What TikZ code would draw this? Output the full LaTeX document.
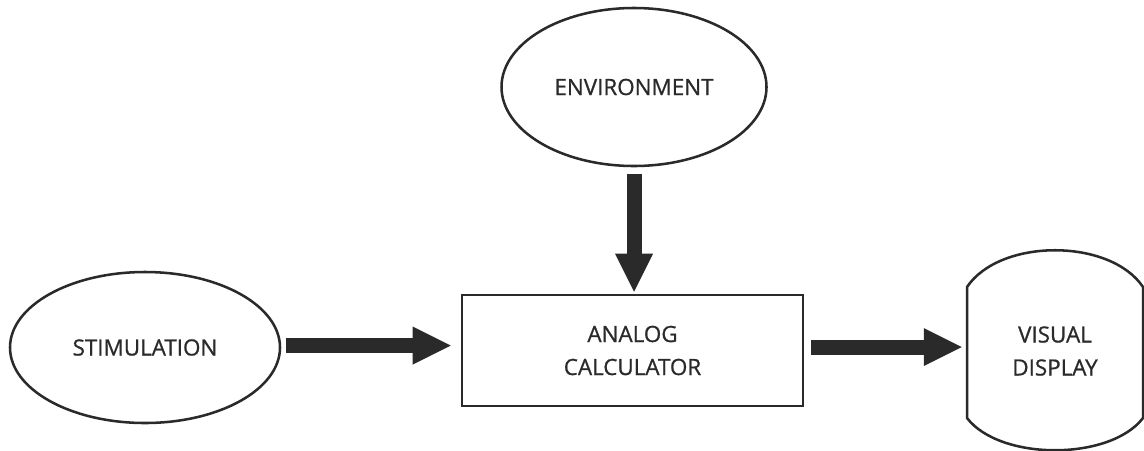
\documentclass[tikz,border=0pt]{standalone}
\usepackage{fontspec}
\setmainfont{Open Sans}[FakeBold=0.8]
\usetikzlibrary{shapes.geometric,arrows.meta,calc}
\definecolor{ink}{HTML}{2A2A2A}
\begin{document}
\begin{tikzpicture}[x=0.75pt,y=-0.75pt,
  every node/.style={font=\fontsize{16.8}{24.75}\selectfont, text=ink, align=center},
  oval/.style={ellipse, draw=ink, line width=1.9pt, inner sep=0pt},
  box/.style={rectangle, draw=ink, line width=1.9pt, inner sep=0pt},
  bigarrow/.style={draw=ink, line width=11.25pt,
    -{Triangle[length=28.5pt,width=28.5pt,line width=0pt]}}]
  \useasboundingbox (0,0) rectangle (1144,450);

  % sources and the calculator
  \node[oval, minimum width=198.75pt, minimum height=118.5pt] (env) at (634,87) {ENVIRONMENT};
  \node[oval, minimum width=202.5pt, minimum height=113.25pt] (stim) at (145,347.5) {STIMULATION};
  \node[box, minimum width=255.75pt, minimum height=83.25pt] (calc) at (632.5,350.5) {ANALOG\\CALCULATOR};

  % display symbol: straight sides, bowed top and bottom
  \draw[ink, line width=1.9pt, line join=miter]
    (967,287) .. controls (1000,238) and (1110,238) .. (1143,287)
    -- (1143,418) .. controls (1110,461) and (1000,461) .. (967,418) -- cycle;
  \node[minimum width=132pt, minimum height=98.25pt, inner sep=0pt] (disp) at (1055,351) {VISUAL\\DISPLAY};

  % signal flow
  \draw[bigarrow, shorten <=5.25pt, shorten >=1.5pt] (env.south) -- (env.south |- calc.north);
  \draw[bigarrow, shorten <=3.75pt, shorten >=7.5pt] ([yshift=1.5pt]stim.east) -- ([yshift=1.5pt]stim.east -| calc.west);
  \draw[bigarrow, shorten <=5.25pt, shorten >=3.75pt] ([yshift=2.6pt]calc.east) -- ([yshift=2.6pt]calc.east -| disp.west);
\end{tikzpicture}
\end{document}
